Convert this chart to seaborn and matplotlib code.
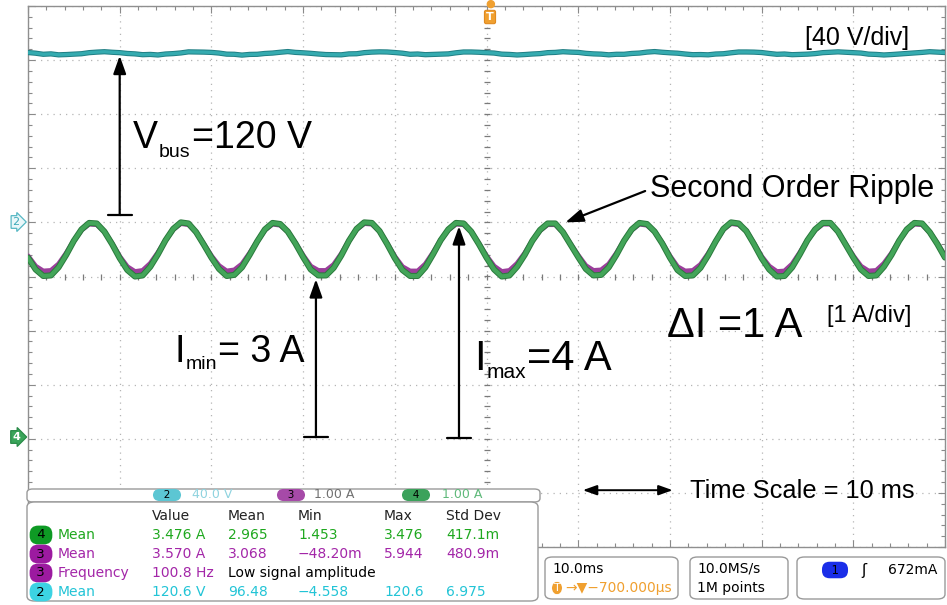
import numpy as np
import pandas as pd
import matplotlib
matplotlib.use("Agg")
import matplotlib.pyplot as plt
import seaborn as sns
from matplotlib.patches import FancyBboxPatch
from matplotlib.ticker import MultipleLocator

# scope settings (from the screen)
MS_PER_DIV = 10.0
V_PER_DIV = 40.0        # ch2, bus voltage
A_PER_DIV = 1.0         # ch3 / ch4, current
CH2_OFFSET_DIV = 1.0    # ground marker "2"
CH4_OFFSET_DIV = -3.0   # ground marker "4"

# samples, 12 per 10 ms period, -50 ms .. +50 ms
ch4_current = [
    3.35, 3.13, 3.01, 3.02, 3.17, 3.40, 3.66, 3.87, 3.99, 3.98, 3.83, 3.60,
    3.34, 3.12, 3.00, 3.02, 3.18, 3.41, 3.67, 3.88, 4.00, 3.98, 3.82, 3.59,
    3.35, 3.14, 3.01, 3.03, 3.17, 3.40, 3.65, 3.87, 3.99, 3.97, 3.83, 3.61,
    3.36, 3.13, 3.02, 3.02, 3.16, 3.39, 3.66, 3.88, 4.00, 3.99, 3.84, 3.60,
    3.34, 3.12, 3.01, 3.01, 3.17, 3.41, 3.67, 3.87, 3.99, 3.98, 3.83, 3.60,
    3.35, 3.13, 3.00, 3.02, 3.18, 3.40, 3.66, 3.86, 3.98, 3.98, 3.82, 3.59,
    3.36, 3.14, 3.02, 3.03, 3.17, 3.40, 3.66, 3.87, 3.99, 3.97, 3.83, 3.61,
    3.35, 3.12, 3.01, 3.02, 3.16, 3.39, 3.65, 3.88, 4.00, 3.98, 3.84, 3.60,
    3.34, 3.13, 3.00, 3.01, 3.17, 3.41, 3.67, 3.87, 3.99, 3.99, 3.83, 3.59,
    3.35, 3.13, 3.01, 3.02, 3.18, 3.40, 3.66, 3.87, 3.99, 3.98, 3.82, 3.60,
    3.35,
]
ch3_current = [
    3.38, 3.19, 3.10, 3.11, 3.23, 3.43, 3.66, 3.86, 3.97, 3.96, 3.83, 3.61,
    3.37, 3.18, 3.09, 3.11, 3.24, 3.44, 3.67, 3.87, 3.98, 3.96, 3.82, 3.60,
    3.38, 3.20, 3.10, 3.12, 3.23, 3.43, 3.65, 3.86, 3.97, 3.95, 3.83, 3.62,
    3.39, 3.19, 3.11, 3.11, 3.22, 3.42, 3.66, 3.87, 3.98, 3.97, 3.84, 3.61,
    3.37, 3.18, 3.10, 3.10, 3.23, 3.44, 3.67, 3.86, 3.97, 3.96, 3.83, 3.61,
    3.38, 3.19, 3.09, 3.11, 3.24, 3.43, 3.66, 3.85, 3.96, 3.96, 3.82, 3.60,
    3.39, 3.20, 3.11, 3.12, 3.23, 3.43, 3.66, 3.86, 3.97, 3.95, 3.83, 3.62,
    3.38, 3.18, 3.10, 3.11, 3.22, 3.42, 3.65, 3.87, 3.98, 3.96, 3.84, 3.61,
    3.37, 3.19, 3.09, 3.10, 3.23, 3.44, 3.67, 3.86, 3.97, 3.97, 3.83, 3.60,
    3.38, 3.19, 3.10, 3.11, 3.24, 3.43, 3.66, 3.86, 3.97, 3.96, 3.82, 3.61,
    3.38,
]
ch2_voltage = [
    125.6, 125.1, 124.3, 124.6, 123.9, 124.1, 124.4, 124.7, 125.5, 125.9, 126.2, 125.8,
    125.5, 124.9, 124.6, 124.0, 124.2, 123.8, 124.5, 124.8, 125.3, 126.1, 126.0, 125.9,
    125.7, 125.2, 124.4, 124.3, 123.7, 124.2, 124.3, 124.9, 125.2, 125.8, 126.3, 125.7,
    125.4, 125.0, 124.5, 124.1, 124.0, 123.9, 124.6, 124.7, 125.5, 125.9, 126.1, 126.0,
    125.6, 125.1, 124.3, 124.5, 124.0, 124.2, 124.4, 124.6, 125.4, 126.0, 126.0, 125.8,
    125.5, 125.2, 124.4, 124.2, 123.8, 124.1, 124.5, 124.8, 125.5, 125.7, 126.2, 125.9,
    125.7, 125.0, 124.6, 124.4, 123.9, 124.3, 124.3, 124.9, 125.2, 125.9, 126.3, 125.8,
    125.4, 125.1, 124.5, 124.0, 124.1, 123.9, 124.5, 124.7, 125.4, 126.0, 126.0, 125.9,
    125.6, 124.9, 124.3, 124.5, 124.0, 124.2, 124.4, 124.8, 125.5, 125.8, 126.1, 125.8,
    125.5, 125.2, 124.4, 124.2, 123.8, 124.1, 124.5, 124.9, 125.3, 125.7, 126.2, 125.9,
    125.6,
]

# measurement readout
meas_header = ["Value", "Mean", "Min", "Max", "Std Dev"]
meas_rows = [
    ("4", "Mean", ["3.476 A", "2.965", "1.453", "3.476", "417.1m"]),
    ("3", "Mean", ["3.570 A", "3.068", "\u221248.20m", "5.944", "480.9m"]),
    ("3", "Frequency", ["100.8 Hz", "Low signal amplitude", "", "", ""]),
    ("2", "Mean", ["120.6 V", "96.48", "\u22124.558", "120.6", "6.975"]),
]

C_CH2 = "#35abb0"
C_CH3 = "#9b3f9b"
C_CH4 = "#43a559"
TXT = {"2": "#22c4d6", "3": "#a326a8", "4": "#1fa81f"}
BADGE = {"2": "#3cd3e3", "3": "#9c1aa0", "4": "#0e9a24"}

sns.set_theme(style="white")
plt.rcParams["font.family"] = ["Liberation Sans", "DejaVu Sans"]
plt.rcParams["text.color"] = "black"

W, H = 947, 605
fig = plt.figure(figsize=(W / 100, H / 100), dpi=100)
fig.patch.set_facecolor("white")


def fx(px):
    return px / W


def fy(py):
    return 1 - py / H


ax = fig.add_axes([fx(28), fy(547), (945 - 28) / W, (547 - 6) / H])

t = np.linspace(-5 * MS_PER_DIV, 5 * MS_PER_DIV, len(ch4_current))
df = pd.DataFrame({
    "t": t,
    "ch2": CH2_OFFSET_DIV + np.array(ch2_voltage) / V_PER_DIV,
    "ch3": CH4_OFFSET_DIV + np.array(ch3_current) / A_PER_DIV,
    "ch4": CH4_OFFSET_DIV + np.array(ch4_current) / A_PER_DIV,
})

sns.lineplot(data=df, x="t", y="ch2", ax=ax, color="#1f7f84", lw=3.8, zorder=3)
sns.lineplot(data=df, x="t", y="ch2", ax=ax, color=C_CH2, lw=2.4, zorder=3)
sns.lineplot(data=df, x="t", y="ch3", ax=ax, color=C_CH3, lw=3.6, zorder=3)
sns.lineplot(data=df, x="t", y="ch4", ax=ax, color="#2a7a3c", lw=4.4, zorder=4)
sns.lineplot(data=df, x="t", y="ch4", ax=ax, color=C_CH4, lw=3.0, zorder=4)

ax.set_xlim(-5 * MS_PER_DIV, 5 * MS_PER_DIV)
ax.set_ylim(-5, 5)
ax.set_xlabel("")
ax.set_ylabel("")
ax.set_xticks(np.arange(-50, 51, 10))
ax.set_yticks(np.arange(-5, 6, 1))
ax.xaxis.set_minor_locator(MultipleLocator(2))
ax.yaxis.set_minor_locator(MultipleLocator(0.2))
ax.tick_params(which="both", direction="in", top=True, right=True, bottom=True, left=True,
               labelbottom=False, labelleft=False, color="#8a8a8a", width=0.8)
ax.tick_params(which="major", length=5)
ax.tick_params(which="minor", length=3)
ax.grid(True, which="major", color="#b5b5b5", lw=0.9, ls=(0, (1, 4)))
for sp in ax.spines.values():
    sp.set_color("#8f8f8f")
    sp.set_linewidth(1.0)

# centre graticule ticks
xt = np.arange(-50, 50.1, 2)
yt = np.arange(-5, 5.01, 0.2)
ax.plot(xt, np.zeros_like(xt), ls="none", marker="|", ms=5, mew=0.9, color="#7a7a7a", zorder=2)
ax.plot(np.zeros_like(yt), yt, ls="none", marker="_", ms=5, mew=0.9, color="#7a7a7a", zorder=2)

# annotation arrows
arrow = dict(arrowstyle="-|>,head_length=0.9,head_width=0.32", color="black", lw=1.6,
             shrinkA=0, shrinkB=0)
for x0, y0, y1 in [(-40.0, 1.14, 4.08), (-18.6, -2.97, -0.05), (-3.0, -2.99, 0.93)]:
    ax.annotate("", xy=(x0, y1), xytext=(x0, y0), arrowprops=arrow, zorder=6)
    ax.plot([x0 - 1.3, x0 + 1.3], [y0, y0], color="black", lw=1.6, zorder=6)
ax.annotate("", xy=(8.6, 1.0), xytext=(17.3, 1.58), arrowprops=arrow, zorder=6)
ax.annotate("", xy=(10.5, -3.95), xytext=(20.3, -3.95),
            arrowprops=dict(arrowstyle="<|-|>,head_length=0.7,head_width=0.25", color="black",
                            lw=1.4, shrinkA=0, shrinkB=0), zorder=6)

renderer = fig.canvas.get_renderer()


def chain(x, y, parts):
    """Place text pieces one after another (main text, subscript, main text)."""
    cur = fx(x)
    for s, fs, dy in parts:
        tx = fig.text(cur, fy(y + dy), s, fontsize=fs, va="baseline", color="black")
        cur += tx.get_window_extent(renderer).width / W + 1 / W


# big labels
chain(133, 148, [("V", 27, 0), ("bus", 14, 9), ("=120 V", 27, 0)])
chain(174, 362, [("I", 27, 0), ("min", 14, 7), ("= 3 A", 27, 0)])
chain(474, 370, [("I", 30, 0), ("max", 15, 8), ("=4 A", 30, 0)])
fig.text(fx(667), fy(337), "\u0394I =1 A", fontsize=30, va="baseline")
fig.text(fx(827), fy(322), "[1 A/div]", fontsize=17, va="baseline")
fig.text(fx(805), fy(45), "[40 V/div]", fontsize=18, va="baseline")
fig.text(fx(650), fy(197), "Second Order Ripple", fontsize=22, va="baseline")
fig.text(fx(690), fy(498), "Time Scale = 10 ms", fontsize=18.3, va="baseline")

# channel ground markers and trigger marker
fig.text(fx(16), fy(222), "2", fontsize=8, color="#3aa9b8", ha="center", va="center",
         family="DejaVu Sans",
         bbox=dict(boxstyle="rarrow,pad=0.12", fc="#eaf7f9", ec="#57b8c4", lw=0.9))
fig.text(fx(16), fy(437), "4", fontsize=8, color="white", ha="center", va="center",
         family="DejaVu Sans", fontweight="bold",
         bbox=dict(boxstyle="rarrow,pad=0.12", fc="#3aa55a", ec="#2a8a48", lw=0.9))
fig.text(fx(490), fy(17), "T", fontsize=8, color="white", ha="center", va="center",
         family="DejaVu Sans", fontweight="bold",
         bbox=dict(boxstyle="round,pad=0.15", fc="#f0a030", ec="#e08a20", lw=0.8))
fig.text(fx(490), fy(4), "\u25cf", fontsize=8, color="#f0a030", ha="center", va="center",
         family="DejaVu Sans")


def box(x0, y0, x1, y1, r=0.008):
    p = FancyBboxPatch((fx(x0), fy(y1)), fx(x1) - fx(x0), fy(y0) - fy(y1),
                       boxstyle=f"round,pad=0,rounding_size={r}", transform=fig.transFigure,
                       fc="white", ec="#9a9a9a", lw=1.0, zorder=5)
    fig.patches.append(p)


def badge(cx, cy, label, fc, tc="black", fs=9.5, pad=0.22):
    fig.text(fx(cx), fy(cy), label, fontsize=fs, color=tc, ha="center", va="center",
             family="DejaVu Sans", zorder=7,
             bbox=dict(boxstyle=f"round,pad={pad},rounding_size=0.65", fc=fc, ec="none"))


def st(x, y, s, color="black", fs=10):
    fig.text(fx(x), fy(y), s, fontsize=fs, color=color, va="center", family="DejaVu Sans",
             zorder=7)


# measurement readout
box(27, 489, 540, 502, r=0.006)
box(27, 502, 538, 601)
badge(167, 495, "   2   ", "#5cc6d3", fs=7.5, pad=0.1)
st(192, 495, "40.0 V", "#8fd3df", fs=9)
badge(291, 495, "   3   ", "#a64aa8", fs=7.5, pad=0.1)
st(314, 495, "1.00 A", "#707070", fs=9)
badge(416, 495, "   4   ", "#3ba25b", fs=7.5, pad=0.1)
st(442, 495, "1.00 A", "#5fb97a", fs=9)

cols = [152, 228, 298, 384, 446]
for cx, h in zip(cols, meas_header):
    st(cx, 516, h, "#222222")
for ry, (ch, name, vals) in zip([535, 554, 573, 592], meas_rows):
    badge(41, ry, " " + ch + " ", BADGE[ch])
    st(58, ry, name, TXT[ch])
    for cx, v in zip(cols, vals):
        if v == "Low signal amplitude":
            st(cx, ry, v, "black")
        elif v:
            st(cx, ry, v, TXT[ch])

# status bar
box(545, 557, 678, 599)
st(552, 569, "10.0ms")
badge(557, 588, "T", "#f0a030", tc="white", fs=8, pad=0.15)
st(565, 588, "\u2192\u25bc\u2212700.000\u00b5s", "#f0a030")
box(690, 557, 788, 599)
st(697, 569, "10.0MS/s")
st(697, 588, "1M points")
box(797, 557, 945, 599)
badge(835, 570, "  1  ", "#1a2ee8", tc="black", fs=8.5, pad=0.15)
st(861, 570, "\u0283", fs=11)
st(888, 570, "672mA")

fig.savefig("out.png", dpi=100)
